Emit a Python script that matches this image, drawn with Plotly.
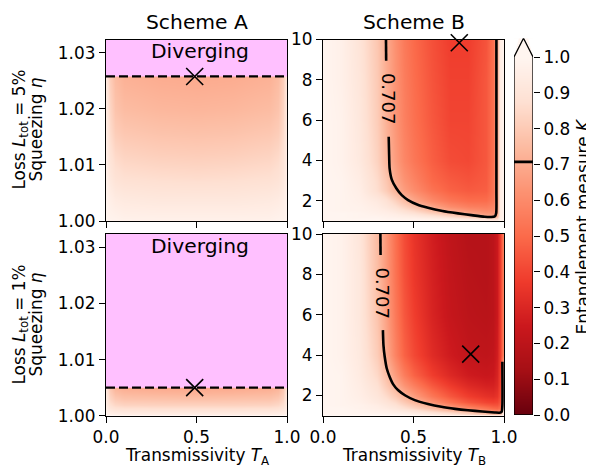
import plotly.graph_objects as go

# ---------------- data ----------------
T_A = [0.0, 0.02, 0.05, 0.1, 0.3, 0.5, 0.7, 0.9, 0.95, 0.98, 1.0]
ETA_A5 = [1.000, 1.004, 1.008, 1.012, 1.016, 1.020, 1.024, 1.0258]
K_A5 = [
    [1.00, 0.99, 0.99, 0.98, 0.98, 0.98, 0.98, 0.98, 0.99, 0.99, 1.00],
    [0.99, 0.96, 0.94, 0.93, 0.92, 0.92, 0.92, 0.93, 0.94, 0.96, 0.99],
    [0.97, 0.92, 0.89, 0.875, 0.865, 0.86, 0.865, 0.875, 0.89, 0.92, 0.97],
    [0.96, 0.89, 0.85, 0.83, 0.815, 0.81, 0.815, 0.83, 0.85, 0.89, 0.96],
    [0.95, 0.86, 0.81, 0.79, 0.775, 0.77, 0.775, 0.79, 0.81, 0.86, 0.95],
    [0.94, 0.84, 0.78, 0.755, 0.74, 0.735, 0.74, 0.755, 0.78, 0.84, 0.94],
    [0.93, 0.82, 0.76, 0.73, 0.715, 0.71, 0.715, 0.73, 0.76, 0.82, 0.93],
    [0.93, 0.81, 0.75, 0.72, 0.705, 0.70, 0.705, 0.72, 0.75, 0.81, 0.93],
]
ETA_A1 = [1.000, 1.001, 1.002, 1.003, 1.004, 1.005]
K_A1 = [
    [1.00, 0.99, 0.99, 0.98, 0.98, 0.98, 0.98, 0.98, 0.99, 0.99, 1.00],
    [0.97, 0.93, 0.91, 0.905, 0.90, 0.90, 0.90, 0.905, 0.91, 0.93, 0.97],
    [0.95, 0.88, 0.85, 0.835, 0.83, 0.83, 0.83, 0.835, 0.85, 0.88, 0.95],
    [0.94, 0.84, 0.80, 0.78, 0.775, 0.77, 0.775, 0.78, 0.80, 0.84, 0.94],
    [0.93, 0.81, 0.76, 0.74, 0.73, 0.725, 0.73, 0.74, 0.76, 0.81, 0.93],
    [0.92, 0.79, 0.73, 0.71, 0.70, 0.695, 0.70, 0.71, 0.73, 0.79, 0.92],
]
ETA_DIV = [1.0258, 1.005]          # divergence threshold (dashed line)
ETA_A_TOP = 1.0324                 # upper limit of eta axis, scheme A

T_B = [0.0, 0.1, 0.2, 0.3, 0.35, 0.4, 0.45, 0.5, 0.6, 0.7, 0.8, 0.9, 0.94, 0.96, 0.98, 1.0]
ETA_B = [1.0, 1.1, 1.2, 1.3, 1.4, 1.55, 1.7, 2.0, 2.5, 3.0, 4.0, 6.0, 8.0, 10.0]
K_B5 = [
    [1.0, 1.0, 1.0, 1.0, 1.0, 1.0, 1.0, 1.0, 1.0, 1.0, 1.0, 1.0, 1.0, 1.0, 1.0, 1.0],
    [1.0, 1.0, 1.0, 1.0, 0.99, 0.99, 0.98, 0.98, 0.96, 0.94, 0.91, 0.87, 0.84, 0.85, 0.97, 1.0],
    [1.0, 1.0, 0.99, 0.99, 0.98, 0.97, 0.96, 0.95, 0.91, 0.86, 0.80, 0.74, 0.71, 0.74, 0.96, 1.0],
    [1.0, 1.0, 0.99, 0.98, 0.97, 0.96, 0.94, 0.92, 0.86, 0.80, 0.73, 0.67, 0.66, 0.70, 0.95, 1.0],
    [1.0, 1.0, 0.99, 0.97, 0.96, 0.94, 0.91, 0.88, 0.81, 0.74, 0.68, 0.63, 0.63, 0.68, 0.95, 1.0],
    [1.0, 0.99, 0.98, 0.96, 0.94, 0.91, 0.87, 0.83, 0.74, 0.67, 0.62, 0.59, 0.60, 0.67, 0.95, 1.0],
    [1.0, 0.99, 0.98, 0.95, 0.92, 0.88, 0.83, 0.78, 0.69, 0.61, 0.57, 0.56, 0.58, 0.66, 0.95, 1.0],
    [1.0, 0.99, 0.97, 0.93, 0.89, 0.83, 0.76, 0.69, 0.60, 0.54, 0.51, 0.51, 0.55, 0.66, 0.95, 1.0],
    [1.0, 0.99, 0.96, 0.87, 0.81, 0.73, 0.66, 0.61, 0.53, 0.48, 0.46, 0.47, 0.53, 0.66, 0.95, 1.0],
    [1.0, 0.99, 0.95, 0.86, 0.79, 0.70, 0.63, 0.58, 0.50, 0.46, 0.44, 0.46, 0.53, 0.66, 0.95, 1.0],
    [1.0, 0.98, 0.93, 0.83, 0.74, 0.66, 0.59, 0.54, 0.47, 0.42, 0.41, 0.45, 0.52, 0.67, 0.95, 1.0],
    [1.0, 0.98, 0.92, 0.81, 0.72, 0.64, 0.57, 0.52, 0.45, 0.40, 0.40, 0.45, 0.52, 0.68, 0.95, 1.0],
    [1.0, 0.97, 0.91, 0.80, 0.71, 0.63, 0.56, 0.51, 0.44, 0.39, 0.39, 0.45, 0.52, 0.69, 0.95, 1.0],
    [1.0, 0.97, 0.90, 0.79, 0.70, 0.62, 0.55, 0.50, 0.43, 0.38, 0.38, 0.44, 0.52, 0.69, 0.95, 1.0],
]
K_B1 = [
    [1.0, 1.0, 1.0, 1.0, 1.0, 1.0, 1.0, 1.0, 1.0, 1.0, 1.0, 1.0, 1.0, 1.0, 1.0, 1.0],
    [1.0, 1.0, 1.0, 1.0, 0.99, 0.99, 0.98, 0.97, 0.94, 0.90, 0.85, 0.79, 0.76, 0.75, 0.78, 1.0],
    [1.0, 1.0, 0.99, 0.98, 0.97, 0.96, 0.95, 0.93, 0.88, 0.83, 0.78, 0.70, 0.66, 0.65, 0.68, 1.0],
    [1.0, 1.0, 0.99, 0.97, 0.96, 0.94, 0.92, 0.89, 0.82, 0.75, 0.68, 0.60, 0.56, 0.55, 0.58, 1.0],
    [1.0, 1.0, 0.98, 0.96, 0.94, 0.92, 0.88, 0.84, 0.76, 0.68, 0.60, 0.53, 0.50, 0.49, 0.52, 1.0],
    [1.0, 0.99, 0.98, 0.95, 0.92, 0.89, 0.84, 0.79, 0.70, 0.60, 0.52, 0.46, 0.44, 0.44, 0.48, 1.0],
    [1.0, 0.99, 0.97, 0.93, 0.90, 0.86, 0.80, 0.74, 0.63, 0.53, 0.45, 0.40, 0.39, 0.40, 0.45, 1.0],
    [1.0, 0.99, 0.96, 0.91, 0.86, 0.80, 0.73, 0.66, 0.54, 0.45, 0.38, 0.34, 0.33, 0.35, 0.42, 1.0],
    [1.0, 0.99, 0.95, 0.88, 0.80, 0.72, 0.63, 0.56, 0.45, 0.37, 0.31, 0.28, 0.28, 0.31, 0.40, 1.0],
    [1.0, 0.99, 0.94, 0.85, 0.76, 0.66, 0.56, 0.48, 0.38, 0.31, 0.26, 0.24, 0.25, 0.29, 0.39, 0.95],
    [1.0, 0.98, 0.93, 0.81, 0.70, 0.58, 0.48, 0.41, 0.32, 0.26, 0.22, 0.21, 0.22, 0.27, 0.38, 0.62],
    [1.0, 0.98, 0.92, 0.78, 0.67, 0.55, 0.45, 0.38, 0.29, 0.23, 0.20, 0.19, 0.20, 0.25, 0.37, 0.62],
    [1.0, 0.98, 0.92, 0.76, 0.65, 0.53, 0.43, 0.36, 0.28, 0.22, 0.19, 0.18, 0.20, 0.25, 0.37, 0.62],
    [1.0, 0.98, 0.91, 0.75, 0.64, 0.52, 0.42, 0.35, 0.27, 0.21, 0.18, 0.18, 0.20, 0.25, 0.37, 0.62],
]

# K = 0.707 contour, split where the label sits
C5_TOP_T = [0.348, 0.349]
C5_TOP_ETA = [10.0, 8.95]
C5_T = [0.363, 0.365, 0.368, 0.380, 0.405, 0.435, 0.470, 0.520, 0.580, 0.660, 0.746, 0.820, 0.893, 0.930, 0.950, 0.957, 0.958, 0.958]
C5_ETA = [5.18, 4.40, 3.61, 3.05, 2.62, 2.28, 2.04, 1.82, 1.66, 1.50, 1.38, 1.29, 1.21, 1.20, 1.24, 1.40, 2.5, 10.0]
C1_TOP_T = [0.317, 0.318]
C1_TOP_ETA = [10.0, 8.96]
C1_T = [0.331, 0.334, 0.341, 0.352, 0.368, 0.388, 0.414, 0.455, 0.507, 0.580, 0.654, 0.730, 0.801, 0.880, 0.949, 0.975, 0.987, 0.991, 0.991]
C1_ETA = [5.24, 4.50, 3.92, 3.35, 2.93, 2.55, 2.27, 2.00, 1.77, 1.58, 1.44, 1.34, 1.27, 1.21, 1.16, 1.15, 1.20, 1.50, 3.67]
C_LEVEL = 0.707
C_LABEL_POS = [(0.363, 7.07), (0.331, 7.06)]

MARK_A = [(0.49, 1.0258), (0.49, 1.005)]
MARK_B = [(0.753, 9.84), (0.816, 4.05)]
DIVERGING_POS = (0.52, 1.0303)

CB_TICKS = [0.0, 0.1, 0.2, 0.3, 0.4, 0.5, 0.6, 0.7, 0.8, 0.9, 1.0]
A_TICKS = [1.00, 1.01, 1.02, 1.03]
B_TICKS = [2, 4, 6, 8, 10]
T_TICKS = [0.0, 0.5, 1.0]

# ---------------- styling ----------------
# the page body adds an 8 px margin, so the figure is drawn 8 px smaller
PAGE_W, PAGE_H, OFF = 594, 467, 8
W, H = PAGE_W - OFF, PAGE_H - OFF
FONT = "DejaVu Sans"
FS = 16.9
FS_TITLE = 20.3
REDS = ['rgb(255,245,240)', 'rgb(254,224,210)', 'rgb(252,187,161)', 'rgb(252,146,114)',
        'rgb(251,106,74)', 'rgb(239,59,44)', 'rgb(203,24,29)', 'rgb(165,15,21)', 'rgb(103,0,13)']
CSCALE = [[i / 8, c] for i, c in enumerate(reversed(REDS))]
PINK = '#FFC0FF'

def px(x):
    return (x - OFF) / W

def py(y):
    return 1 - (y - OFF) / H

COL_L = [px(106), px(287)]
COL_R = [px(323), px(504)]
ROW_T = [py(221), py(39.5)]
ROW_B = [py(415.7), py(234)]
CB_XD = [px(514), px(533)]
CB_YD = [py(415), py(38.3)]
CB_TOP = (415 - 38.3) / (415 - 57)

fig = go.Figure()

def heat(x, y, z, xa, ya):
    fig.add_trace(go.Heatmap(x=x, y=y, z=z, xaxis=xa, yaxis=ya, zsmooth='best',
                             colorscale=CSCALE, zmin=0, zmax=1, showscale=False,
                             hoverinfo='skip'))

def line(x, y, xa, ya, width=2.6, dash='solid', color='black'):
    fig.add_trace(go.Scatter(x=x, y=y, xaxis=xa, yaxis=ya, mode='lines',
                             line=dict(color=color, width=width, dash=dash),
                             hoverinfo='skip', cliponaxis=False))

def mark(pt, xa, ya):
    fig.add_trace(go.Scatter(x=[pt[0]], y=[pt[1]], xaxis=xa, yaxis=ya, mode='markers',
                             marker=dict(symbol='x-thin', size=17,
                                         line=dict(color='black', width=1.6)),
                             hoverinfo='skip', cliponaxis=False))

# Scheme A panels
for (xa, ya, eta, K, div, mk) in [('x', 'y', ETA_A5, K_A5, ETA_DIV[0], MARK_A[0]),
                                  ('x3', 'y3', ETA_A1, K_A1, ETA_DIV[1], MARK_A[1])]:
    heat(T_A, eta, K, xa, ya)
    fig.add_trace(go.Scatter(x=[0, 1, 1, 0, 0], y=[div, div, ETA_A_TOP, ETA_A_TOP, div],
                             xaxis=xa, yaxis=ya, mode='lines', fill='toself',
                             fillcolor=PINK, line=dict(width=0, color=PINK),
                             hoverinfo='skip'))
    line([0, 1], [div, div], xa, ya, width=2.2, dash='9px,4px')
    mark(mk, xa, ya)

# Scheme B panels
for (xa, ya, K, ct, ce, tt, te, mk) in [('x2', 'y2', K_B5, C5_T, C5_ETA, C5_TOP_T, C5_TOP_ETA, MARK_B[0]),
                                        ('x4', 'y4', K_B1, C1_T, C1_ETA, C1_TOP_T, C1_TOP_ETA, MARK_B[1])]:
    heat(T_B, ETA_B, K, xa, ya)
    line(tt, te, xa, ya, width=2.6)
    fig.add_trace(go.Scatter(x=ct, y=ce, xaxis=xa, yaxis=ya, mode='lines',
                             line=dict(color='black', width=2.6, shape='spline', smoothing=0.6),
                             hoverinfo='skip'))
    mark(mk, xa, ya)

# colour bar drawn as its own small axis
fig.add_trace(go.Heatmap(x=[0, 1], y=[0, 1], z=[[0, 0], [1, 1]], xaxis='x5', yaxis='y5',
                         zsmooth='best', colorscale=CSCALE, zmin=0, zmax=1,
                         showscale=False, hoverinfo='skip'))
for poly in ([0, 0, 0.5, 0], [1, 1, 0.5, 1]):
    fig.add_trace(go.Scatter(x=poly, y=[1, CB_TOP + 0.05, CB_TOP + 0.05, 1], xaxis='x5', yaxis='y5',
                             mode='lines', fill='toself', fillcolor='white',
                             line=dict(width=0, color='white'), hoverinfo='skip', cliponaxis=False))
line([0, 1], [C_LEVEL, C_LEVEL], 'x5', 'y5', width=2.8)
line([0, 1, 1, 0.5, 0, 0], [0, 0, 1, CB_TOP, 1, 0], 'x5', 'y5', width=1.3)

axis_common = dict(showline=True, linecolor='black', linewidth=1.3, mirror=True,
                   ticks='outside', ticklen=6, tickwidth=1.2, tickcolor='black',
                   showgrid=False, zeroline=False, automargin=False,
                   tickfont=dict(family=FONT, size=FS, color='black'))

def xax(dom, anchor, labels):
    return dict(axis_common, domain=dom, anchor=anchor, range=[0, 1], tickvals=T_TICKS,
                tickformat='.1f', showticklabels=labels)

def yax(dom, anchor, rng, ticks, fmt):
    return dict(axis_common, domain=dom, anchor=anchor, range=rng, tickvals=ticks, tickformat=fmt)

annots = []
def ann(text, x, y, xref='paper', yref='paper', size=FS, angle=0, xanchor='center', yanchor='middle'):
    annots.append(dict(text=text, x=x, y=y, xref=xref, yref=yref, showarrow=False,
                       textangle=angle, xanchor=xanchor, yanchor=yanchor, borderpad=0,
                       font=dict(family=FONT, size=size, color='black')))

ann('Scheme A', px(196.5), py(22), size=FS_TITLE)
ann('Scheme B', px(413.5), py(22), size=FS_TITLE)
for (xa, ya) in [('x', 'y'), ('x3', 'y3')]:
    ann('Diverging', DIVERGING_POS[0], DIVERGING_POS[1], xref=xa, yref=ya, size=FS_TITLE)
for (pos, xa, ya) in zip(C_LABEL_POS, ['x2', 'x4'], ['y2', 'y4']):
    ann('0.707', pos[0], pos[1], xref=xa, yref=ya, size=18, angle=90)
ann('Loss <i>L</i><sub>tot</sub> = 5%', px(19.5), py(130), angle=-90)
ann('Squeezing <i>η</i>', px(35.5), py(130), angle=-90)
ann('Loss <i>L</i><sub>tot</sub> = 1%', px(19.5), py(325), angle=-90)
ann('Squeezing <i>η</i>', px(35.5), py(325), angle=-90)
ann('Transmissivity <i>T</i><sub>A</sub>', px(196.5), py(456.5))
ann('Transmissivity <i>T</i><sub>B</sub>', px(413.5), py(456.5))
ann('Entanglement measure <i>K</i>', px(582.5), py(227), angle=-90)

fig.update_layout(
    width=W, height=H, margin=dict(l=0, r=0, t=0, b=0),
    template='none', paper_bgcolor='white', plot_bgcolor='white', showlegend=False,
    font=dict(family=FONT, size=FS, color='black'),
    xaxis=xax(COL_L, 'y', False),
    yaxis=yax(ROW_T, 'x', [1.0, ETA_A_TOP], A_TICKS, '.2f'),
    xaxis2=xax(COL_R, 'y2', False),
    yaxis2=yax(ROW_T, 'x2', [1, 10], B_TICKS, 'd'),
    xaxis3=xax(COL_L, 'y3', True),
    yaxis3=yax(ROW_B, 'x3', [1.0, ETA_A_TOP], A_TICKS, '.2f'),
    xaxis4=xax(COL_R, 'y4', True),
    yaxis4=yax(ROW_B, 'x4', [1, 10], B_TICKS, 'd'),
    xaxis5=dict(domain=CB_XD, anchor='y5', range=[0, 1], visible=False, automargin=False),
    yaxis5=dict(domain=CB_YD, anchor='x5', range=[0, CB_TOP], side='right', showline=False,
                ticks='outside', ticklen=6, tickwidth=1.2, tickcolor='black',
                tickvals=CB_TICKS, tickformat='.1f', showgrid=False, zeroline=False,
                automargin=False, tickfont=dict(family=FONT, size=FS, color='black')),
    annotations=annots,
)

fig.write_html("out.html")
